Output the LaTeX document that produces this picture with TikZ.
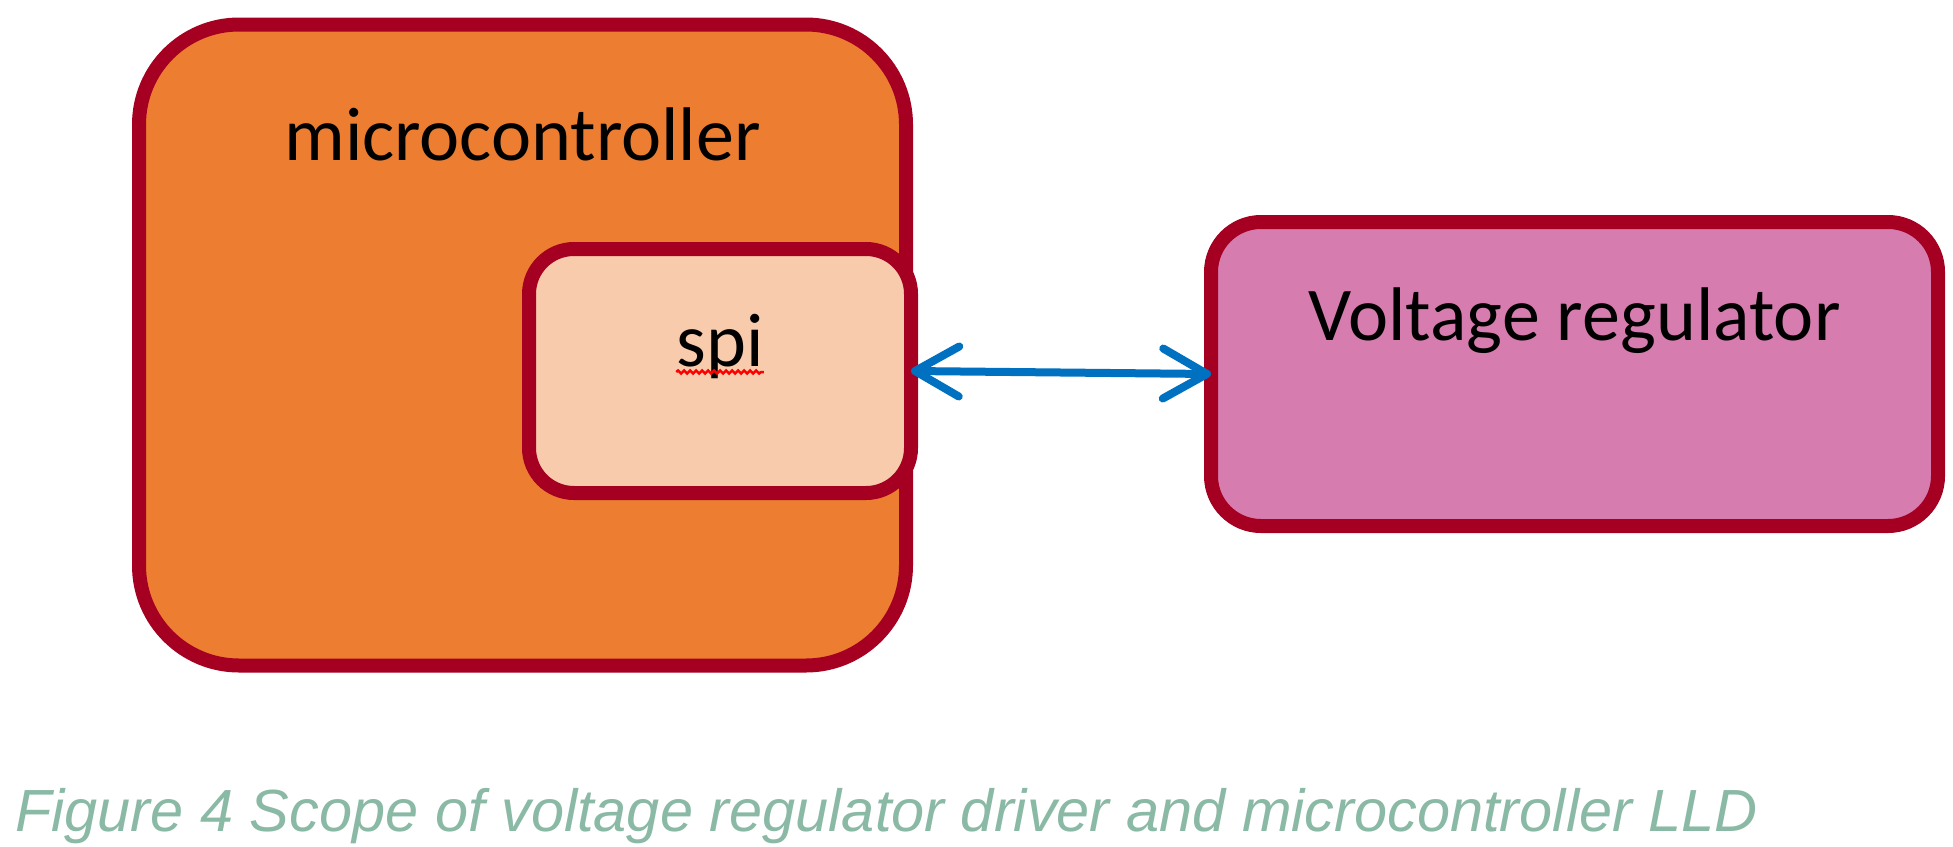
\documentclass[tikz,border=0pt]{standalone}
\usepackage{fontspec}
\setmainfont{Carlito}
\newfontfamily\capfont{Liberation Sans}
\usetikzlibrary{arrows.meta,decorations.pathmorphing}

\definecolor{rim}{HTML}{A50021}
\definecolor{mcorange}{HTML}{ED7D31}
\definecolor{spipeach}{HTML}{F8CBAD}
\definecolor{vrpink}{HTML}{D67CAF}
\definecolor{linkblue}{HTML}{0070C0}
\definecolor{capgreen}{HTML}{8AB9A5}

\tikzset{
  block/.style={draw=rim, line width=14pt, rounded corners=#1, inner sep=0pt, outer sep=0pt},
  block/.default=50pt,
  lbl/.style={font=\fontsize{76}{80}\selectfont, anchor=base, inner sep=0pt},
  link/.style={draw=linkblue, line width=8pt,
    {Straight Barb[length=44pt,width=50pt,round]}-{Straight Barb[length=44pt,width=50pt,round]}},
}

\begin{document}
\begin{tikzpicture}[x=1pt,y=-1pt]
    \useasboundingbox (0,0) rectangle (1953,846);

    \node [block=100pt, fill=mcorange, minimum width=767pt, minimum height=641pt] (mc) at (522.5,345) {};
    \node [block=45pt, fill=spipeach, minimum width=382pt, minimum height=244pt] (spi) at (720,371) {};
    \node [block, fill=vrpink, minimum width=727pt, minimum height=304pt] (vr) at (1574.5,374) {};

    \node [lbl] (mclbl) at ([yshift=-136pt]mc.north) {microcontroller};
    \node [lbl] (spilbl) at ([yshift=-117pt]spi.north) {spi};
    \node [lbl] (vrlbl) at ([yshift=-118pt]vr.north) {Voltage regulator};
    %spelling squiggle
    \draw [red, line width=2.5pt, decorate, decoration={snake, amplitude=1.5pt, segment length=6pt}]
        ([yshift=-6pt]spilbl.base west) -- ([yshift=-6pt]spilbl.base east);

    \draw [link] (spi.east) -- (vr.west);

    \node [font=\capfont\itshape\fontsize{59.5}{62}\selectfont, text=capgreen, anchor=base west, inner sep=0pt]
        (caption) at (15,831) {Figure 4 Scope of voltage regulator driver and microcontroller LLD};
\end{tikzpicture}
\end{document}
